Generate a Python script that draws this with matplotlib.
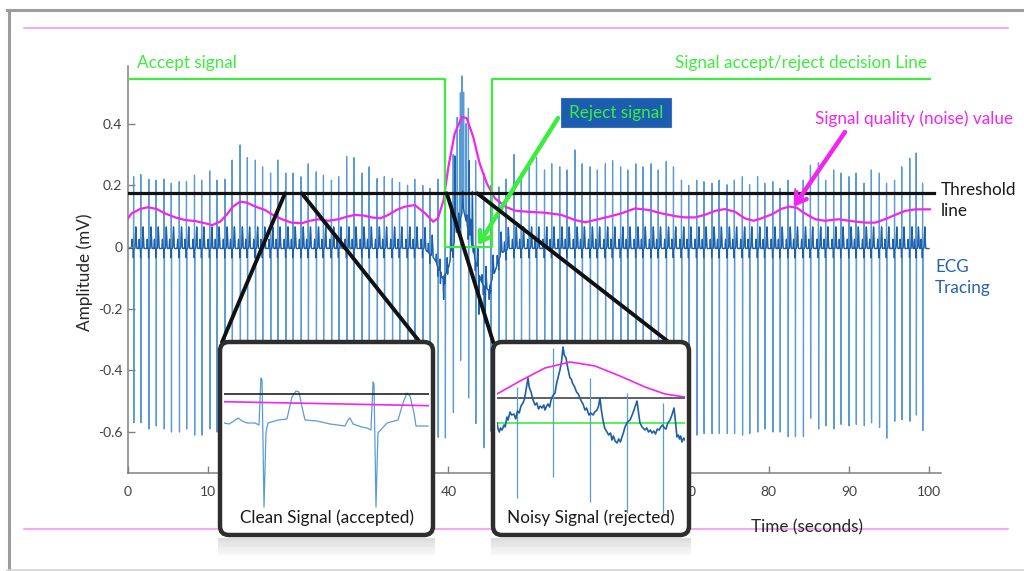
import numpy as np
import matplotlib
matplotlib.use("Agg")
import matplotlib.pyplot as plt
from matplotlib.patches import FancyBboxPatch, Rectangle, ConnectionPatch
from matplotlib.lines import Line2D
from matplotlib.transforms import Affine2D

plt.rcParams["font.family"] = ["Lato", "DejaVu Sans"]

W, H = 1024, 571

# ---- main ECG trace: beat times (s), R-peak and S-trough levels (mV) ----
beat_t = [0.7, 1.6, 2.6, 3.5, 4.5, 5.4, 6.4, 7.3, 8.3, 9.2,
          10.2, 11.1, 12.1, 13.0, 14.0, 14.9, 15.9, 16.8, 17.8, 18.7,
          19.7, 20.6, 21.6, 22.5, 23.5, 24.4, 25.4, 26.3, 27.3, 28.2,
          29.2, 30.1, 31.1, 32.0, 33.0, 33.9, 34.9, 35.8, 36.8, 37.7,
          38.7, 39.6, 40.6, 41.5, 42.5, 43.4, 44.4, 45.3, 46.3, 47.2,
          48.2, 49.1, 50.1, 51.0, 52.0, 52.9, 53.9, 54.8, 55.8, 56.7,
          57.7, 58.6, 59.6, 60.5, 61.5, 62.4, 63.4, 64.3, 65.3, 66.2,
          67.2, 68.1, 69.1, 70.0, 71.0, 71.9, 72.9, 73.8, 74.8, 75.7,
          76.7, 77.6, 78.6, 79.5, 80.5, 81.4, 82.4, 83.3, 84.3, 85.2,
          86.2, 87.1, 88.1, 89.0, 90.0, 90.9, 91.9, 92.8, 93.8, 94.7,
          95.7, 96.6, 97.6, 98.4, 99.2]
beat_r = [0.228, 0.235, 0.22, 0.217, 0.22, 0.207, 0.212, 0.212, 0.233, 0.217,
          0.247, 0.217, 0.22, 0.282, 0.331, 0.29, 0.282, 0.26, 0.24, 0.282,
          0.24, 0.24, 0.228, 0.27, 0.244, 0.233, 0.217, 0.228, 0.294, 0.29,
          0.24, 0.26, 0.222, 0.228, 0.222, 0.21, 0.20, 0.22, 0.20, 0.19,
          0.22, 0.22, 0.30, 0.50, 0.45, 0.28, 0.24, 0.20, 0.195, 0.22,
          0.30, 0.24, 0.26, 0.29, 0.25, 0.27, 0.26, 0.25, 0.315, 0.27,
          0.26, 0.25, 0.27, 0.28, 0.26, 0.25, 0.27, 0.26, 0.27, 0.25,
          0.277, 0.26, 0.217, 0.20, 0.217, 0.212, 0.207, 0.217, 0.202, 0.217,
          0.228, 0.202, 0.228, 0.207, 0.212, 0.19, 0.217, 0.19, 0.217, 0.265,
          0.273, 0.217, 0.25, 0.24, 0.228, 0.24, 0.207, 0.25, 0.24, 0.207,
          0.217, 0.26, 0.288, 0.305, 0.207]
beat_s = [-0.57, -0.57, -0.59, -0.58, -0.59, -0.60, -0.60, -0.59, -0.61, -0.61,
          -0.59, -0.60, -0.60, -0.61, -0.60, -0.59, -0.60, -0.61, -0.60, -0.60,
          -0.60, -0.61, -0.60, -0.60, -0.59, -0.60, -0.60, -0.61, -0.60, -0.60,
          -0.60, -0.60, -0.61, -0.60, -0.60, -0.60, -0.61, -0.60, -0.60, -0.61,
          -0.615, -0.62, -0.54, -0.37, -0.49, -0.57, -0.65, -0.60, -0.60, -0.60,
          -0.60, -0.60, -0.60, -0.60, -0.60, -0.60, -0.60, -0.60, -0.60, -0.60,
          -0.60, -0.60, -0.60, -0.60, -0.60, -0.60, -0.60, -0.60, -0.60, -0.60,
          -0.60, -0.60, -0.60, -0.60, -0.61, -0.605, -0.605, -0.605, -0.605, -0.605,
          -0.61, -0.605, -0.60, -0.59, -0.60, -0.60, -0.615, -0.615, -0.615, -0.555,
          -0.59, -0.58, -0.59, -0.575, -0.58, -0.575, -0.58, -0.57, -0.585, -0.62,
          -0.565, -0.56, -0.565, -0.545, -0.595]
# baseline wander (mV) and the noise burst around 40 s
wander_t = [0, 37.0, 38.3, 39.2, 39.9, 40.6, 41.3, 41.9, 42.6, 43.4, 44.2, 45.0, 45.8, 46.6, 47.6, 100]
wander_v = [-0.005, -0.005, -0.04, -0.10, -0.08, 0.0, 0.08, 0.12, 0.04, -0.05, -0.12, -0.14,
            -0.08, -0.02, -0.005, -0.005]
burst_t = [39.0, 39.4, 39.9, 40.3, 40.8, 41.1, 41.4, 41.7, 41.9, 42.2, 42.6, 43.0, 43.8, 44.6, 45.1]
burst_v = [-0.18, -0.20, -0.15, 0.12, 0.28, 0.42, 0.38, 0.54, 0.50, 0.40, 0.28, 0.18, -0.22, -0.26, -0.20]

# signal quality (noise) value
noise_t = [0, 0.46, 1.5, 2.5, 3.6, 4.6, 5.9, 7.1, 8.4, 9.6, 10.5, 11.5, 12.3, 13.1, 14.0,
           14.8, 15.9, 17.1, 18.1, 19.2, 20.4, 21.7, 22.7, 23.8, 25.0, 26.3, 27.3, 28.3,
           29.4, 30.4, 31.5, 32.5, 33.5, 34.6, 35.8, 37.1, 38.1, 38.7, 39.4, 40.0, 40.8,
           41.7, 42.3, 43.1, 43.9, 44.8, 45.8, 47.1, 48.3, 50.0, 52.1, 54.1, 55.8, 57.1,
           58.3, 60.0, 61.6, 63.3, 65.0, 66.6, 68.3, 69.5, 70.8, 72.0, 73.3, 74.5, 75.8,
           77.0, 78.1, 79.1, 80.4, 81.6, 82.6, 83.5, 84.5, 85.8, 87.0, 88.7, 90.3, 92.0,
           93.3, 94.5, 95.8, 97.0, 98.3, 99.5, 100.1]
noise_v = [0.093, 0.109, 0.123, 0.129, 0.123, 0.109, 0.096, 0.0875, 0.084, 0.077, 0.071,
           0.082, 0.104, 0.131, 0.147, 0.144, 0.131, 0.12, 0.104, 0.09, 0.079, 0.077,
           0.085, 0.09, 0.085, 0.09, 0.098, 0.104, 0.102, 0.096, 0.093, 0.104, 0.12,
           0.131, 0.136, 0.109, 0.082, 0.093, 0.152, 0.26, 0.369, 0.422, 0.417, 0.357,
           0.271, 0.206, 0.158, 0.131, 0.118, 0.114, 0.111, 0.104, 0.0875, 0.08, 0.0875,
           0.098, 0.109, 0.125, 0.12, 0.109, 0.1, 0.096, 0.096, 0.104, 0.117, 0.123,
           0.114, 0.093, 0.085, 0.093, 0.106, 0.124, 0.131, 0.127, 0.109, 0.09, 0.085,
           0.09, 0.084, 0.079, 0.079, 0.09, 0.104, 0.117, 0.122, 0.122, 0.122]

# accept / reject decision line and threshold
decision_t = [0, 39.6, 39.6, 45.5, 45.5, 100.1]
decision_v = [0.545, 0.545, 0.0, 0.0, 0.545, 0.545]
threshold = 0.174
threshold_end = 100.6

x_ticks = [0, 10, 20, 30, 40, 50, 60, 70, 80, 90, 100]
y_ticks = [-0.6, -0.4, -0.2, 0, 0.2, 0.4]
y_tick_labels = ["-0.6", "-0.4", "-0.2", "0", "0.2", "0.4"]

# ---- zoomed insets ----
clean_t = [0, 0.043, 0.085, 0.12, 0.154, 0.197, 0.265, 0.299, 0.316, 0.325, 0.342, 0.359,
           0.376, 0.462, 0.538, 0.581, 0.615, 0.641, 0.667, 0.692, 0.795, 0.906, 1.034,
           1.06, 1.077, 1.103, 1.179, 1.222, 1.256, 1.274, 1.282, 1.299, 1.316, 1.393,
           1.487, 1.53, 1.564, 1.59, 1.624, 1.641, 1.744]
clean_v = [0, -0.01, 0.02, 0.05, 0.02, 0, 0, -0.02, 0.45, 0.43, -0.84, -0.09, 0, 0.03,
           0.04, 0.26, 0.32, 0.31, 0.16, 0.03, 0.02, -0.01, -0.03, 0.03, 0.05, -0.01,
           -0.04, -0.05, -0.07, 0.41, 0.39, -0.84, -0.10, 0, 0.03, 0.20, 0.30, 0.27,
           0.10, -0.03, -0.03]
clean_thr = 0.29
clean_q_t = [0, 1.76]
clean_q_v = [0.213, 0.173]

noisy_t = [0, 0.01, 0.02, 0.03, 0.043, 0.06, 0.07, 0.085, 0.095, 0.111, 0.125, 0.145, 0.16,
           0.175, 0.19, 0.205, 0.222, 0.235, 0.248, 0.265, 0.275, 0.291, 0.305, 0.325, 0.34,
           0.355, 0.37, 0.385, 0.40, 0.41, 0.425, 0.436, 0.45, 0.462, 0.475, 0.496, 0.51,
           0.525, 0.538, 0.552, 0.564, 0.575, 0.59, 0.605, 0.624, 0.635, 0.645, 0.655,
           0.667, 0.68, 0.695, 0.709, 0.72, 0.735, 0.752, 0.765, 0.786, 0.80, 0.821, 0.835,
           0.855, 0.868, 0.88, 0.893, 0.906, 0.92, 0.94, 0.955, 0.97, 0.983, 0.995, 1.01,
           1.026, 1.04, 1.055, 1.068, 1.08, 1.094, 1.11, 1.125, 1.137, 1.155, 1.171, 1.185,
           1.197, 1.21, 1.222, 1.24, 1.265, 1.28, 1.295, 1.31, 1.325, 1.34, 1.355, 1.37,
           1.385, 1.40, 1.415, 1.43, 1.444, 1.46, 1.479, 1.495, 1.513, 1.525, 1.538, 1.55,
           1.56, 1.57, 1.581, 1.595, 1.607]
noisy_v = [0, -0.06, -0.09, -0.05, -0.07, -0.02, -0.04, 0.06, 0.03, 0.11, 0.08, 0.09, 0.04,
           0.12, 0.10, 0.17, 0.20, 0.24, 0.33, 0.45, 0.36, 0.31, 0.24, 0.18, 0.20, 0.14,
           0.17, 0.15, 0.18, 0.13, 0.17, 0.19, 0.16, 0.23, 0.27, 0.30, 0.40, 0.47, 0.53,
           0.62, 0.76, 0.68, 0.65, 0.55, 0.45, 0.44, 0.40, 0.38, 0.35, 0.31, 0.29, 0.25,
           0.22, 0.19, 0.13, 0.15, 0.08, 0.10, 0.08, 0.11, 0.13, 0.17, 0.25, 0.12, 0.03,
           -0.05, -0.09, -0.12, -0.10, -0.17, -0.13, -0.18, -0.20, -0.16, -0.19, -0.14,
           -0.10, -0.04, 0.0, 0.02, 0.03, 0.08, 0.13, 0.18, 0.22, 0.10, 0, -0.04, -0.07,
           -0.05, -0.09, -0.07, -0.10, -0.08, -0.11, -0.06, -0.07, -0.04, -0.02, -0.05,
           -0.06, 0, 0.03, 0.08, 0.15, 0.02, -0.14, -0.12, -0.16, -0.13, -0.19, -0.15, -0.17]
noisy_spike_t = [0.171, 0.479, 0.795, 1.111, 1.419]
noisy_spike_top = [0.36, 0.75, 0.45, 0.30, 0.20]
noisy_spike_bottom = [-0.75, -0.54, -0.79, -0.90, -0.90]
noisy_q_t = [0, 0.197, 0.41, 0.624, 0.838, 1.051, 1.265, 1.436, 1.607]
noisy_q_v = [0.29, 0.42, 0.55, 0.61, 0.57, 0.47, 0.36, 0.29, 0.26]
noisy_thr = 0.25
noisy_dec = 0.005

GREEN = "#3ded3d"
MAGENTA = "#f224f2"
PINK = "#f58ff5"
BLUE_LIGHT = "#5b9bd5"
BLUE_DARK = "#1f5fa8"
FS = 12.3

fig = plt.figure(figsize=(W / 100, H / 100), dpi=100)
fig.patch.set_facecolor("white")
PIX = Affine2D().scale(1, -1).translate(0, H)   # top-left pixel coords


def px_rect(x0, y0, x1, y1):
    return [x0 / W, 1 - y1 / H, (x1 - x0) / W, (y1 - y0) / H]


# page decorations
for xs, ys, col, lw in [([7, 1024], [10, 10], "#9c9c9c", 2.2),
                        ([8.5, 8.5], [10, 571], "#9c9c9c", 2.2),
                        ([7, 1024], [569.5, 569.5], "#d4d4d4", 1.2),
                        ([24, 1008], [28, 28], PINK, 1.1),
                        ([24, 1008], [529, 529], PINK, 1.1)]:
    fig.add_artist(Line2D(xs, ys, color=col, lw=lw, transform=PIX, zorder=0.5))

# ---- main axes ----
ax = fig.add_axes(px_rect(128, 66, 941, 473), zorder=1)
ax.set_facecolor("none")

t = np.linspace(0, 100, 50001)


def bump(c, w, a):
    return a * np.exp(-0.5 * ((t - c) / w) ** 2)


band = np.interp(t, wander_t, wander_v)
spikes = np.zeros_like(t)
for tb, r, s in zip(beat_t, beat_r, beat_s):
    b0 = np.interp(tb, wander_t, wander_v)
    band += bump(tb - 0.2, 0.025, 0.03) + bump(tb - 0.03, 0.006, -0.03) + bump(tb + 0.28, 0.045, 0.07)
    spikes += bump(tb, 0.007, r - b0) + bump(tb + 0.028, 0.007, s - b0)
for bt, bv in zip(burst_t, burst_v):
    b0 = np.interp(bt, wander_t, wander_v)
    if bv > 0.3:
        spikes += bump(bt, 0.012, bv - b0)      # tall thin noise peaks
    else:
        band += bump(bt, 0.025, bv - b0)

ax.plot(t, band + spikes, color=BLUE_LIGHT, lw=0.9, zorder=1)
ax.plot(t, band, color=BLUE_DARK, lw=0.9, zorder=1.5)
ax.plot(noise_t, noise_v, color=MAGENTA, lw=1.6, zorder=3)
ax.plot(decision_t, decision_v, color=GREEN, lw=1.6, zorder=3)
ax.plot([0, threshold_end], [threshold, threshold], color="#111111", lw=2.3, zorder=4)

ax.set_xlim(0, 101.5)
ax.set_ylim(-0.7326, 0.5867)
ax.set_xticks(x_ticks)
ax.set_yticks(y_ticks)
ax.set_yticklabels(y_tick_labels)
for side in ("top", "right"):
    ax.spines[side].set_visible(False)
for side in ("left", "bottom"):
    ax.spines[side].set_color("#808080")
    ax.spines[side].set_linewidth(1.1)
ax.tick_params(direction="in", length=5, width=1, color="#808080",
               labelcolor="#404040", labelsize=10)
ax.tick_params(axis="x", pad=9)
ax.tick_params(axis="y", pad=4)


def ptext(x, y, s, **kw):
    fig.text(x, y, s, transform=PIX, **kw)


ptext(137, 63, "Accept signal", color=GREEN, fontsize=FS, ha="left", va="center")
ptext(927, 63, "Signal accept/reject decision Line", color=GREEN, fontsize=FS,
      ha="right", va="center")
ptext(815, 119, "Signal quality (noise) value", color=MAGENTA, fontsize=FS,
      ha="left", va="center")
ptext(941, 190, "Threshold", color="#1a1a1a", fontsize=FS, ha="left", va="center")
ptext(941, 211, "line", color="#1a1a1a", fontsize=FS, ha="left", va="center")
ptext(935, 267, "ECG", color="#2563b0", fontsize=FS, ha="left", va="center")
ptext(935, 288, "Tracing", color="#2563b0", fontsize=FS, ha="left", va="center")
ptext(85, 272, "Amplitude (mV)", color="#262626", fontsize=FS, ha="center",
      va="center", rotation=90)
ptext(807, 527, "Time (seconds)", color="#262626", fontsize=FS, ha="center", va="center")

fig.add_artist(FancyBboxPatch((561, 98), 110, 29, boxstyle="square,pad=0",
                              facecolor="#1b5db0", edgecolor="#3a6fc0", lw=0.8,
                              transform=PIX, zorder=5))
ptext(616, 113, "Reject signal", color=GREEN, fontsize=FS, ha="center",
      va="center", zorder=6)

ax.annotate("", xy=(43.7, 0.006), xycoords="data", xytext=(558, 118), textcoords=PIX,
            arrowprops=dict(arrowstyle="->,head_length=0.7,head_width=0.45",
                            color=GREEN, lw=3.2, shrinkA=0, shrinkB=0), zorder=6)
ax.annotate("", xy=(83.1, 0.13), xycoords="data", xytext=(845, 132), textcoords=PIX,
            arrowprops=dict(arrowstyle="->,head_length=0.7,head_width=0.45",
                            color=MAGENTA, lw=3.2, shrinkA=0, shrinkB=0), zorder=6)


# ---- insets ----
def make_inset(x0, x1, xmax):
    # reflection under the box
    for i in range(7):
        fig.add_artist(Rectangle((x0 - 2, 538 + 2.6 * i), x1 - x0 + 4, 2.6,
                                 facecolor="#c4c4c4", alpha=0.55 * (1 - i / 7),
                                 lw=0, transform=PIX, zorder=1.8))
    fig.add_artist(FancyBboxPatch((x0, 342), x1 - x0, 193,
                                  boxstyle="round,pad=0,rounding_size=9",
                                  facecolor="white", edgecolor="#2e2e2e", lw=3.2,
                                  transform=PIX, zorder=2))
    iax = fig.add_axes(px_rect(x0 + 4, 346, x1 - 4, 531), zorder=3)
    iax.set_xlim(0, xmax)
    iax.set_ylim(-1.08, 0.77)
    iax.axis("off")
    iax.patch.set_visible(False)
    return iax


ax_clean = make_inset(220, 433, 205 / 117)
ax_clean.plot(clean_t, clean_v, color=BLUE_LIGHT, lw=0.9)
ax_clean.plot(clean_q_t, clean_q_v, color=MAGENTA, lw=1.2)
ax_clean.axhline(clean_thr, color="#222222", lw=1.2)
ax_clean.text(0.5, 0.07, "Clean Signal (accepted)", transform=ax_clean.transAxes,
              ha="center", va="center", fontsize=FS, color="#1a1a1a")

ax_noisy = make_inset(493, 689, 188 / 117)
ax_noisy.axhline(noisy_dec, color=GREEN, lw=1.2)
ax_noisy.axhline(noisy_thr, color="#444444", lw=1.2)
ax_noisy.vlines(noisy_spike_t, noisy_spike_bottom, noisy_spike_top, color=BLUE_LIGHT, lw=0.9)
ax_noisy.plot(noisy_t, noisy_v, color=BLUE_DARK, lw=1.2)
ax_noisy.plot(noisy_q_t, noisy_q_v, color=MAGENTA, lw=1.2)
ax_noisy.text(0.5, 0.07, "Noisy Signal (rejected)", transform=ax_noisy.transAxes,
              ha="center", va="center", fontsize=FS, color="#1a1a1a")

# connectors from the threshold line to the zoom boxes
for tA, iax, fx in [(19.6, ax_clean, -0.01), (21.7, ax_clean, 0.956),
                    (39.8, ax_noisy, -0.02), (43.6, ax_noisy, 0.915)]:
    con = ConnectionPatch(xyA=(tA, threshold), coordsA=ax.transData,
                          xyB=(fx, 1.02), coordsB=iax.transAxes,
                          color="#111111", lw=2.8, zorder=1.9)
    fig.add_artist(con)

fig.savefig("out.png", dpi=100)
